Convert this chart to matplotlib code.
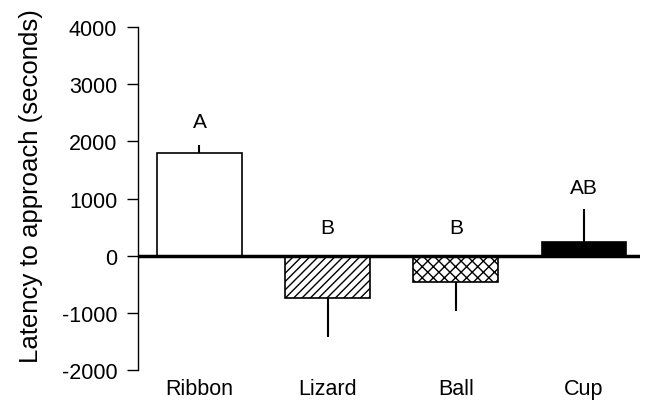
import numpy as np
import matplotlib.pyplot as plt

plt.rcParams["font.family"] = ["Liberation Sans", "DejaVu Sans"]
plt.rcParams["axes.unicode_minus"] = False
plt.rcParams["hatch.linewidth"] = 1.0

# 数据
categories = ["Ribbon", "Lizard", "Ball", "Cup"]
means = [1790, -740, -455, 245]
errors = [140, 680, 505, 565]
letters = ["A", "B", "B", "AB"]
letter_y = [2350, 500, 500, 1200]
yticks = [-2000, -1000, 0, 1000, 2000, 3000, 4000]

colors = ["white", "white", "white", "black"]
hatches = [None, "////", "xxx", None]

fig = plt.figure(figsize=(6.54, 4.02), dpi=100)
ax = fig.add_axes([0.211, 0.077, 0.768, 0.853])

x = np.arange(len(categories))
means_arr = np.array(means)
err_arr = np.array(errors)
# 误差线只画在柱子的方向上
lower = np.where(means_arr < 0, err_arr, 0)
upper = np.where(means_arr >= 0, err_arr, 0)

for i in range(len(categories)):
    ax.bar(x[i], means[i], width=0.66, color=colors[i], edgecolor="black",
           hatch=hatches[i], linewidth=1.2, zorder=2)
ax.errorbar(x, means, yerr=[lower, upper], fmt="none", ecolor="black",
            elinewidth=1.5, capsize=0, zorder=1)

for i, t in enumerate(letters):
    ax.text(x[i], letter_y[i], t, ha="center", va="center", fontsize=15)

ax.axhline(0, color="black", linewidth=2.5, zorder=3)

ax.set_xlim(-0.48, 3.44)
ax.set_ylim(-2000, 4000)
ax.set_yticks(yticks)
ax.set_xticks(x)
ax.set_xticklabels(categories, fontsize=15.5)
ax.tick_params(axis="x", length=0, pad=6)
ax.tick_params(axis="y", direction="out", length=8, width=1, labelsize=15.5, pad=7)
for s in ["top", "right", "bottom"]:
    ax.spines[s].set_visible(False)
ax.spines["left"].set_linewidth(1)
ax.set_ylabel("Latency to approach (seconds)", fontsize=18.5)
ax.yaxis.set_label_coords(-0.19, 0.54)

fig.savefig("out.png", dpi=100)
